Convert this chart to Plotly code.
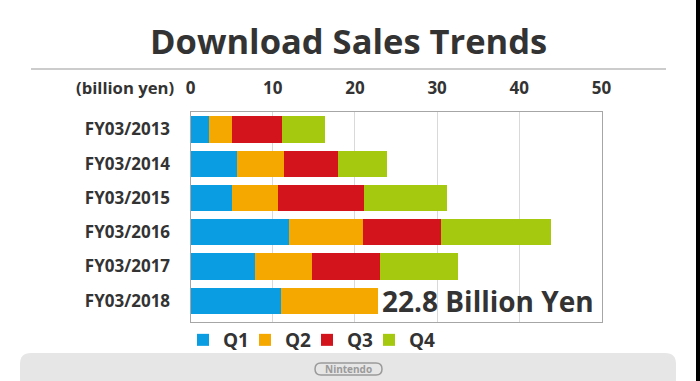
import plotly.graph_objects as go

W, H = 700, 381

years = ["FY03/2013", "FY03/2014", "FY03/2015", "FY03/2016", "FY03/2017", "FY03/2018"]
q1 = [2.3, 5.7, 5.0, 12.0, 7.8, 11.0]
q2 = [2.8, 5.7, 5.7, 9.0, 7.0, 11.8]
q3 = [6.0, 6.5, 10.35, 9.5, 8.3, None]
q4 = [5.3, 6.05, 10.15, 13.4, 9.4, None]
series_names = ["Q1", "Q2", "Q3", "Q4"]
colors = ["#0a9de2", "#f5a800", "#d3141d", "#a5c90f"]
tick_vals = [0, 10, 20, 30, 40, 50]
total_2018_label = "22.8 Billion Yen"

def px(x):
    return x / W

def py(y):
    return 1 - y / H

TXT = "#333333"
FONT = "Open Sans"

fig = go.Figure()
for name, vals, c in zip(series_names, [q1, q2, q3, q4], colors):
    fig.add_trace(go.Bar(y=years, x=vals, name=name, orientation="h",
                         marker=dict(color=c, line=dict(width=0))))
# invisible spacer entry so the last legend label is not clipped
fig.add_trace(go.Bar(y=[years[0]], x=[0], name="\u00a0", orientation="h", hoverinfo="skip",
                     marker=dict(color="rgba(0,0,0,0)", line=dict(width=0))))

fig.update_layout(
    width=W, height=H,
    margin=dict(l=0, r=0, t=0, b=0, autoexpand=False),
    paper_bgcolor="white", plot_bgcolor="white",
    barmode="stack", bargap=0.235,
    showlegend=True,
    legend=dict(orientation="h", x=px(183), y=py(340), xanchor="left", yanchor="middle",
                font=dict(family=FONT, size=19, color=TXT, weight="bold"),
                entrywidth=17, entrywidthmode="pixels", traceorder="normal",
                itemclick=False, tracegroupgap=0, bgcolor="rgba(0,0,0,0)"),
    xaxis=dict(domain=[px(190.5), px(601.5)], range=[0, 50], side="top", automargin=False,
               tickvals=tick_vals, showgrid=True, gridcolor="#d9d9d9", gridwidth=1,
               zeroline=False, showline=True, linecolor="#a6a6a6", linewidth=1, mirror=True,
               ticks="outside", ticklen=11, tickcolor="rgba(0,0,0,0)",
               tickfont=dict(family=FONT, size=17, color=TXT, weight="bold")),
    yaxis=dict(domain=[py(321.7), py(112.3)], autorange="reversed", automargin=False,
               showline=True, linecolor="#a6a6a6", linewidth=1, mirror=True,
               ticks="outside", ticklen=16, tickcolor="rgba(0,0,0,0)",
               tickfont=dict(family=FONT, size=17, color=TXT, weight="bold")),
)

# gray footer band with rounded top corners
x0, x1, y0, y1, r = 20, 676, 353, 390, 11
path = (f"M {px(x0)},{py(y1)} L {px(x0)},{py(y0 + r)} Q {px(x0)},{py(y0)} {px(x0 + r)},{py(y0)} "
        f"L {px(x1 - r)},{py(y0)} Q {px(x1)},{py(y0)} {px(x1)},{py(y0 + r)} L {px(x1)},{py(y1)} Z")
shapes = [
    dict(type="path", xref="paper", yref="paper", path=path,
         fillcolor="#e6e6e6", line=dict(width=0), layer="below"),
    dict(type="line", xref="paper", yref="paper", x0=px(31), x1=px(666), y0=py(69), y1=py(69),
         line=dict(color="#cccccc", width=2)),
    dict(type="rect", xref="paper", yref="paper", x0=px(696), x1=1.0, y0=0, y1=1,
         fillcolor="black", line=dict(width=0)),
]
# Nintendo logo outline (stadium)
lx0, lx1, ly0, ly1 = 315, 382, 363, 375
rr = (ly1 - ly0) / 2
logo = (f"M {px(lx0 + rr)},{py(ly0)} L {px(lx1 - rr)},{py(ly0)} Q {px(lx1)},{py(ly0)} {px(lx1)},{py(ly0 + rr)} "
        f"Q {px(lx1)},{py(ly1)} {px(lx1 - rr)},{py(ly1)} L {px(lx0 + rr)},{py(ly1)} "
        f"Q {px(lx0)},{py(ly1)} {px(lx0)},{py(ly0 + rr)} Q {px(lx0)},{py(ly0)} {px(lx0 + rr)},{py(ly0)} Z")
shapes.append(dict(type="path", xref="paper", yref="paper", path=logo,
                   line=dict(color="#9a9a9a", width=1.5), fillcolor="rgba(0,0,0,0)"))
fig.update_layout(shapes=shapes)

fig.add_annotation(x=px(348), y=py(40), xref="paper", yref="paper", text="Download Sales Trends",
                   showarrow=False, xanchor="center", yanchor="middle",
                   font=dict(family=FONT, size=34.5, color=TXT, weight="bold"))
fig.add_annotation(x=px(176), y=py(87), xref="paper", yref="paper", text="(billion yen)",
                   showarrow=False, xanchor="right", yanchor="middle",
                   font=dict(family=FONT, size=16.7, color=TXT, weight="bold"))
fig.add_annotation(x=q1[5] + q2[5], y=years[5], xref="x", yref="y", text=total_2018_label,
                   showarrow=False, xanchor="left", yanchor="middle", xshift=2,
                   font=dict(family=FONT, size=28, color=TXT, weight="bold"))
fig.add_annotation(x=px(348.5), y=py(369), xref="paper", yref="paper", text="Nintendo",
                   showarrow=False, xanchor="center", yanchor="middle",
                   font=dict(family=FONT, size=10, color="#9a9a9a", weight="bold"))

fig.write_html("out.html", config={"displayModeBar": False},
               post_script="document.body.style.margin='0';")
